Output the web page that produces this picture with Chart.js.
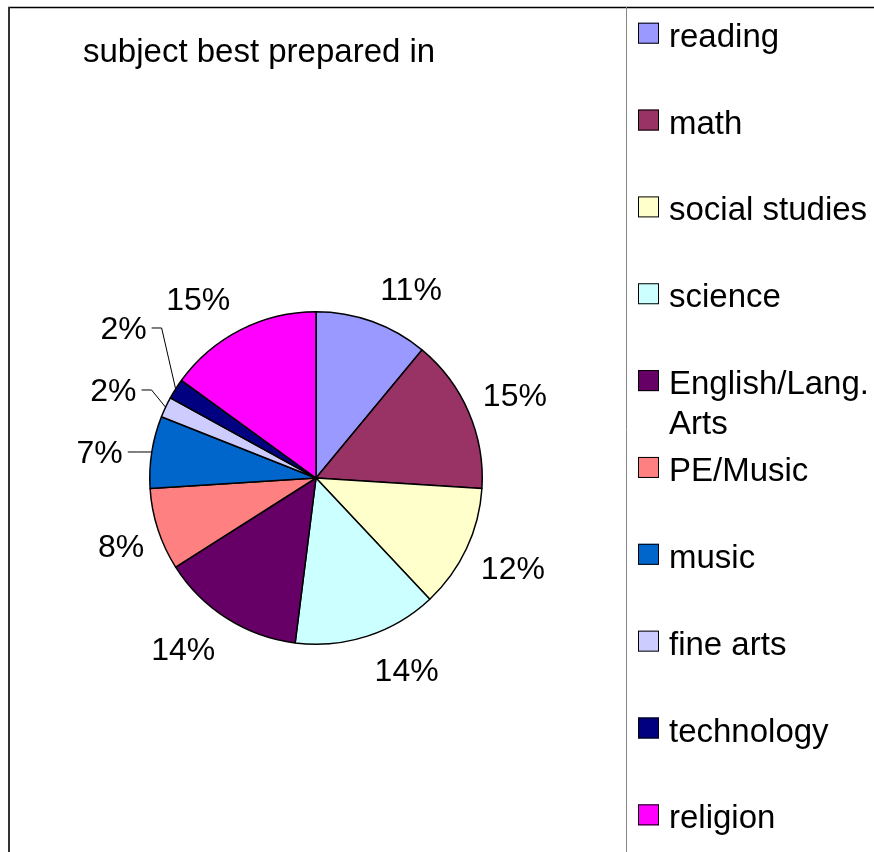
<!DOCTYPE html>
<html>
<head>
<meta charset="utf-8">
<title>subject best prepared in</title>
<script src="https://cdn.jsdelivr.net/npm/chart.js"></script>
<style>
  html, body { margin: 0; padding: 0; background: #fff; }
  canvas { display: block; }
</style>
</head>
<body>
<canvas id="subject-chart" width="874" height="852"></canvas>
<script>
// survey: subject best prepared in (percent of answers)
const subjects = ['reading', 'math', 'social studies', 'science', 'English/Lang. Arts',
                  'PE/Music', 'music', 'fine arts', 'technology', 'religion'];
const percents = [11, 15, 12, 14, 14, 8, 7, 2, 2, 15];
const sliceColors = ['#9999FF', '#993366', '#FFFFCC', '#CCFFFF', '#660066',
                     '#FF8080', '#0066CC', '#CCCCFF', '#000080', '#FF00FF'];
const chartTitle = 'subject best prepared in';

const FONT_FAMILY = '"Liberation Sans", Arial, sans-serif';
const LABEL_FONT = '32px ' + FONT_FAMILY;
const TEXT_FONT = '33px ' + FONT_FAMILY;
const CAP_HEIGHT = 23;

// word wrap for the legend column
function wrapText(ctx, text, maxWidth) {
    let words = text.split(' ');
    let lines = [];
    let line = '';
    words.forEach(w => {
        let test = line ? line + ' ' + w : w;
        if (line && ctx.measureText(test).width > maxWidth) {
            lines.push(line);
            line = w;
        } else {
            line = test;
        }
    });
    if (line) lines.push(line);
    return lines;
}

const decorations = {
    id: 'decorations',
    beforeDraw(chart) {
        let ctx = chart.ctx;
        ctx.save();
        ctx.fillStyle = '#fff';
        ctx.fillRect(0, 0, chart.width, chart.height);
        ctx.restore();
    },
    afterDraw(chart) {
        let ctx = chart.ctx;
        let meta = chart.getDatasetMeta(0);
        ctx.save();

        // outer frame and the legend divider
        ctx.strokeStyle = '#000';
        ctx.lineWidth = 1.5;
        ctx.beginPath();
        ctx.moveTo(8, 7.5);
        ctx.lineTo(chart.width, 7.5);
        ctx.stroke();
        ctx.strokeStyle = '#333';
        ctx.lineWidth = 2;
        ctx.beginPath();
        ctx.moveTo(9, 7);
        ctx.lineTo(9, chart.height);
        ctx.stroke();
        ctx.strokeStyle = '#888';
        ctx.lineWidth = 1;
        ctx.beginPath();
        ctx.moveTo(626.5, 7);
        ctx.lineTo(626.5, chart.height);
        ctx.stroke();

        // title
        ctx.font = TEXT_FONT;
        ctx.fillStyle = '#000';
        ctx.textAlign = 'left';
        ctx.textBaseline = 'alphabetic';
        ctx.fillText(chartTitle, 83, 62);

        // legend
        let step = 86.85;
        subjects.forEach((name, i) => {
            let base = 46.7 + i * step;
            ctx.fillStyle = sliceColors[i];
            ctx.fillRect(638, base - 24, 21, 21);
            ctx.strokeStyle = '#000';
            ctx.lineWidth = 1;
            ctx.strokeRect(638.5, base - 23.5, 20, 20);
            ctx.fillStyle = '#000';
            wrapText(ctx, name, chart.width - 671).forEach((ln, k) => {
                ctx.fillText(ln, 669, base + k * 40);
            });
        });

        // percentage labels
        ctx.font = LABEL_FONT;
        ctx.textBaseline = 'alphabetic';
        let prevY = Infinity;
        meta.data.forEach((arc, i) => {
            let p = arc.getProps(['x', 'y', 'startAngle', 'endAngle', 'outerRadius'], true);
            let mid = (p.startAngle + p.endAngle) / 2;
            let text = percents[i] + '%';
            let ux = Math.cos(mid), uy = Math.sin(mid);
            if (percents[i] < 8) {
                // narrow slices: label pulled out to the left with a leader line
                let ex = p.x + ux * p.outerRadius;
                let ey = p.y + uy * p.outerRadius;
                let ly = Math.min(ey, prevY - 62);
                prevY = ly;
                let elbowX = ex - 14;
                ctx.strokeStyle = '#000';
                ctx.lineWidth = 1;
                ctx.beginPath();
                ctx.moveTo(ex, ey);
                ctx.lineTo(elbowX, ly);
                ctx.lineTo(elbowX - 10, ly);
                ctx.stroke();
                ctx.textAlign = 'right';
                ctx.fillText(text, elbowX - 15, ly + CAP_HEIGHT / 2);
            } else {
                // the text corner nearest the pie sits on the slice's middle ray
                let r = p.outerRadius + 10 + 14 * Math.abs(uy);
                let cx = p.x + ux * r;
                let cy = p.y + uy * r;
                ctx.textAlign = ux >= 0 ? 'left' : 'right';
                ctx.fillText(text, cx, uy < 0 ? cy : cy + CAP_HEIGHT);
            }
        });
        ctx.restore();
    }
};

let subjectChart = new Chart(document.getElementById('subject-chart').getContext('2d'), {
    type: 'pie',
    data: {
        labels: subjects,
        datasets: [{
            data: percents,
            backgroundColor: sliceColors,
            borderColor: '#000',
            borderWidth: 1.5,
            hoverOffset: 0
        }]
    },
    options: {
        responsive: false,
        animation: false,
        layout: {
            padding: { left: 149, right: 391, top: 311, bottom: 207 }
        },
        plugins: {
            legend: { display: false },
            title: { display: false },
            tooltip: { enabled: false }
        }
    },
    plugins: [decorations]
});
</script>
</body>
</html>
